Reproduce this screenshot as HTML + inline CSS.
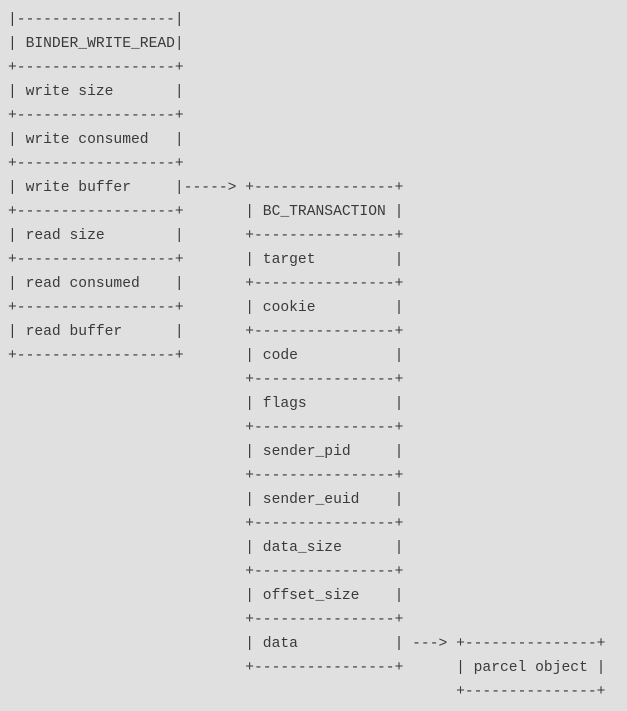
<!DOCTYPE html>
<html><head><meta charset="utf-8"><style>
html,body{margin:0;padding:0;background:#e0e0e0;width:627px;height:711px;overflow:hidden}
pre{margin:0;position:absolute;left:8px;top:8px;font-family:"Liberation Mono",monospace;font-size:14.65px;line-height:24px;color:#3a3a3a}
</style></head><body><pre>|------------------|
| BINDER_WRITE_READ|
+------------------+
| write size       |
+------------------+
| write consumed   |
+------------------+
| write buffer     |-----> +----------------+
+------------------+       | BC_TRANSACTION |
| read size        |       +----------------+
+------------------+       | target         |
| read consumed    |       +----------------+
+------------------+       | cookie         |
| read buffer      |       +----------------+
+------------------+       | code           |
                           +----------------+
                           | flags          |
                           +----------------+
                           | sender_pid     |
                           +----------------+
                           | sender_euid    |
                           +----------------+
                           | data_size      |
                           +----------------+
                           | offset_size    |
                           +----------------+
                           | data           | ---> +---------------+
                           +----------------+      | parcel object |
                                                   +---------------+</pre></body></html>
